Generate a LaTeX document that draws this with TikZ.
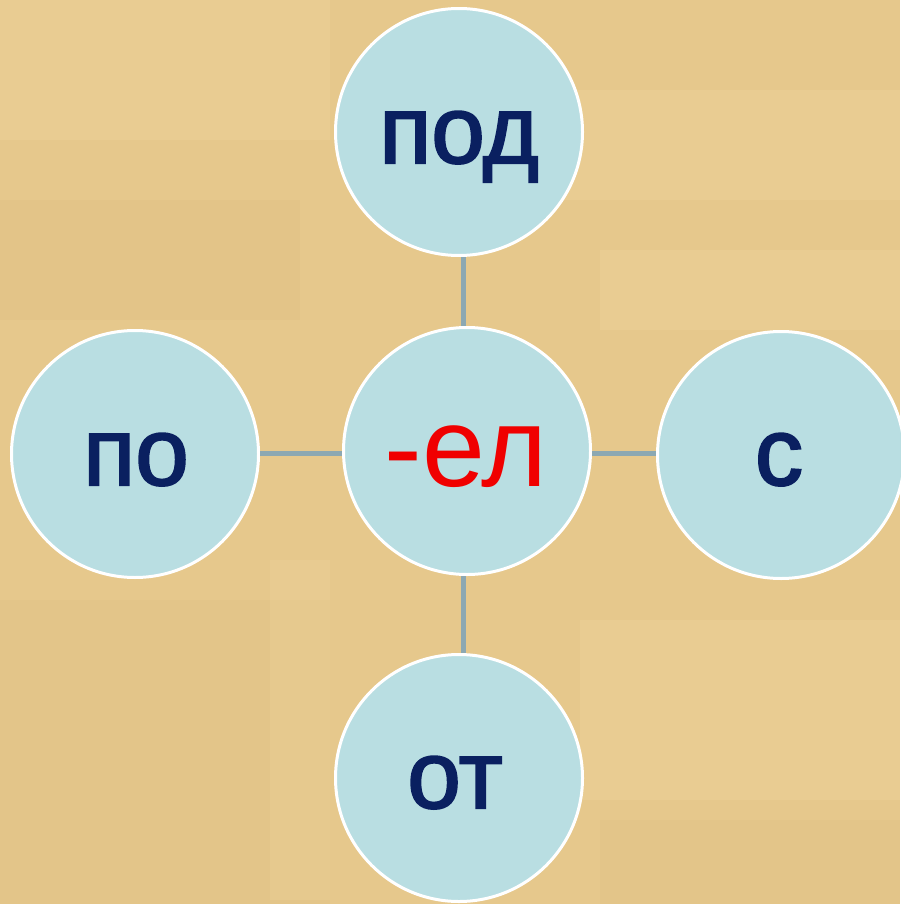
\documentclass[tikz,border=0pt]{standalone}
\usepackage{fontspec}
\setmainfont{Liberation Sans}
\newfontfamily\heavysans[FakeBold=2.2]{Liberation Sans}
\usetikzlibrary{calc}
\begin{document}
\begin{tikzpicture}[x=1pt,y=-1pt,
  bub/.style={circle, fill=bubfill, draw=white, line width=3pt, minimum size=247pt, inner sep=0pt},
  navy/.style={text=navytext, font=\fontsize{96}{96}\heavysans},
  redt/.style={text=redtext, font=\fontsize{113}{113}\selectfont},
  conn/.style={draw=connc, line width=5pt}]
\definecolor{bg}{RGB}{230,200,140}
\definecolor{bgl}{RGB}{240,214,160}
\definecolor{bgd}{RGB}{222,190,130}
\definecolor{bubfill}{RGB}{185,222,226}
\definecolor{navytext}{RGB}{10,32,96}
\definecolor{redtext}{RGB}{240,0,0}
\definecolor{connc}{RGB}{140,168,178}
\useasboundingbox (0,0) rectangle (900,904);
\fill[bg] (0,0) rectangle (900,904);
% faint parchment patches
\fill[bgl, opacity=0.35] (0,0) rectangle (330,140);
\fill[bgl, opacity=0.3] (560,90) rectangle (900,200);
\fill[bgd, opacity=0.3] (0,200) rectangle (300,320);
\fill[bgl, opacity=0.3] (600,250) rectangle (900,330);
\fill[bgd, opacity=0.25] (0,600) rectangle (330,904);
\fill[bgl, opacity=0.3] (580,620) rectangle (900,800);
\fill[bgd, opacity=0.25] (600,820) rectangle (900,904);
\fill[bgl, opacity=0.25] (270,560) rectangle (330,900);
% nodes
\node[bub] (top) at (459,132) {};
\node[bub] (mid) at (467,451) {};
\node[bub] (lft) at (135,454) {};
\node[bub] (rgt) at (781,455) {};
\node[bub] (bot) at (459,778) {};
% connectors
\coordinate (tc) at ($(top.south)+(4,0)$);
\coordinate (bc) at ($(bot.north)+(4,0)$);
\coordinate (lc) at ($(lft.east)+(0,-1)$);
\coordinate (rc) at ($(rgt.west)+(0,-2)$);
\draw[conn] (tc) -- (tc |- mid.north);
\draw[conn] (bc |- mid.south) -- (bc);
\draw[conn] (lc) -- (lc -| mid.west);
\draw[conn] (rc -| mid.east) -- (rc);
% texts
\node[navy, anchor=base] (ttop) at ($(top.center)+(0,31)$) {под};
\node[redt, anchor=base] (tmid) at ($(mid.center)+(-1,35)$) {-ел};
\node[navy, anchor=base] (tlft) at ($(lft.center)+(1,31)$) {по};
\node[navy, anchor=base] (trgt) at ($(rgt.center)+(-2,30)$) {с};
\node[navy, anchor=base] (tbot) at ($(bot.center)+(-4,30)$) {от};
\end{tikzpicture}
\end{document}
